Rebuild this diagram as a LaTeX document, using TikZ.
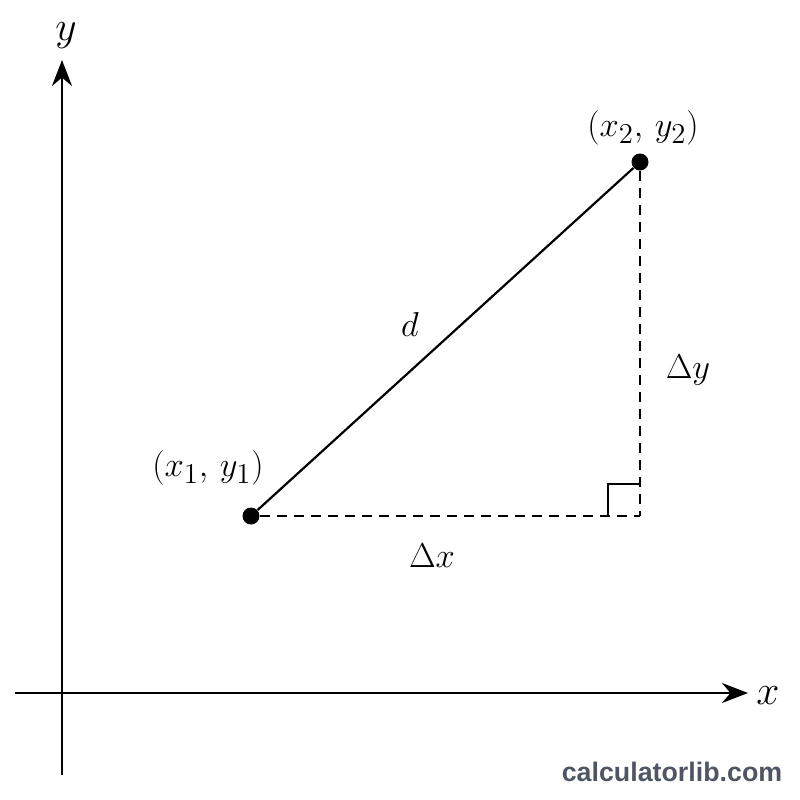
\documentclass[tikz,border=0pt]{standalone}
\usepackage{fontspec}
\newfontfamily\wmfont{Liberation Sans}
\usepackage{tikz}
\usetikzlibrary{arrows,shapes}
\usetikzlibrary{arrows.meta}
\usetikzlibrary{calc}
\usetikzlibrary{positioning}
\tikzset{
	>=stealth',
    axis/.style={draw=black, line width=1.2pt, ->, >={Stealth[length=13pt,width=10pt]}},
    side/.style={draw=black, line width=1.1pt},
    leg/.style={dashed, draw=black, line width=1pt, dash pattern=on 5pt off 3.5pt},
    dot/.style={circle, fill=black, inner sep=0pt, minimum size=8.5pt},
    lbl/.style={font=\fontsize{19}{22}\selectfont, inner sep=0pt},
    axlbl/.style={font=\fontsize{22}{26}\selectfont, inner sep=0pt},
}
\definecolor{markcol}{RGB}{78,86,100}

\begin{document}
\begin{tikzpicture}[x=0.5pt, y=-0.5pt]
\useasboundingbox (0,0) rectangle (800,800);

% axes
\coordinate (ybot) at (62,775);
\coordinate (ytop) at (62,60);
\coordinate (xleft) at (15,693);
\coordinate (xright) at (748,693);
\draw[axis] (ybot) -- (ytop);
\draw[axis] (xleft) -- (xright);
\node[axlbl] (ylab) at (66,36) {$y$};
\node[axlbl] (xlab) at (768,696) {$x$};

% points
\node[dot] (p1) at (251,516) {};
\node[dot] (p2) at (640,162) {};
\coordinate (corner) at (640,516);

\draw[side] (p1) -- (p2);
\draw[leg] (p1) -- (corner);
\draw[leg] (p2) -- (corner);
\draw[side] ($(corner)+(-32,0)$) -- ++(0,-32) -- ++(32,0);

\node[lbl] (p1lab) at (208,468) {$(x_1,\, y_1)$};
\node[lbl] (p2lab) at (643,128) {$(x_2,\, y_2)$};
\node[lbl] (dlab) at (410,324) {$d$};
\node[lbl] (dylab) at (688,370) {$\Delta y$};
\node[lbl] (dxlab) at (432,556) {$\Delta x$};

\node[font=\wmfont\bfseries\fontsize{13.4}{16}\selectfont, text=markcol, inner sep=0pt] (mark) at (672,772) {calculatorlib.com};
\end{tikzpicture}
\end{document}
